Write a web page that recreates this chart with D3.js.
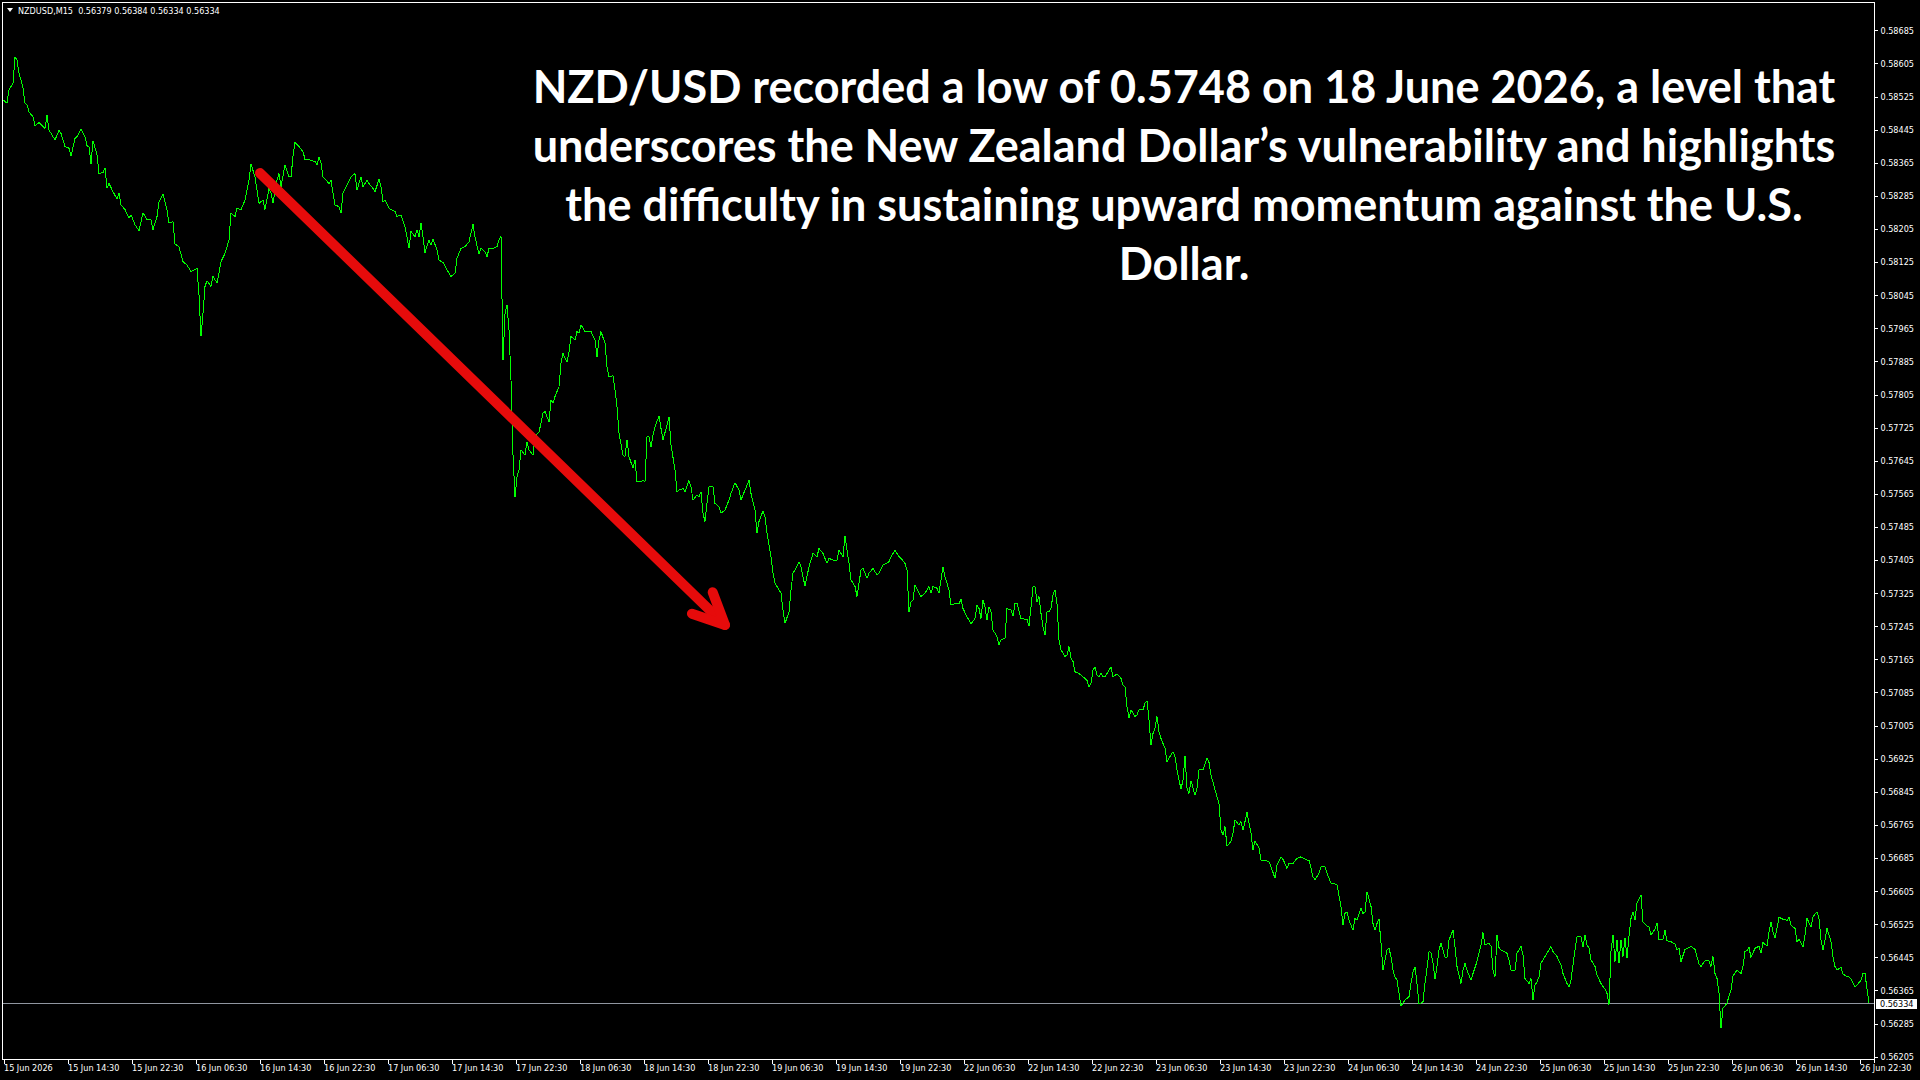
<!DOCTYPE html>
<html>
<head>
<meta charset="utf-8">
<script src="https://cdn.jsdelivr.net/npm/d3@7"></script>
<style>
  html, body { margin: 0; padding: 0; background: #000; }
  svg { display: block; }
  .axis text { font-family: Tahoma, "DejaVu Sans Condensed", "DejaVu Sans", sans-serif; font-size: 9px; fill: #fff; }
  .axis line { stroke: #fff; shape-rendering: crispEdges; }
</style>
</head>
<body>
<svg id="chart" width="1920" height="1080"></svg>
<script>
// header of the MT4 window
const symbolLabel = "NZDUSD,M15";
const lastBarOHLC = [0.56379, 0.56384, 0.56334, 0.56334];

// price scale on the right
const priceTicks = [
  0.58685, 0.58605, 0.58525, 0.58445, 0.58365, 0.58285, 0.58205, 0.58125,
  0.58045, 0.57965, 0.57885, 0.57805, 0.57725, 0.57645, 0.57565, 0.57485,
  0.57405, 0.57325, 0.57245, 0.57165, 0.57085, 0.57005, 0.56925, 0.56845,
  0.56765, 0.56685, 0.56605, 0.56525, 0.56445, 0.56365, 0.56285, 0.56205
];

// time scale: one label every 32 bars of M15
const timeTickBars = [
  0, 32, 64, 96, 128, 160, 192, 224, 256, 288,
  320, 352, 384, 416, 448, 480, 512, 544, 576, 608,
  640, 672, 704, 736, 768, 800, 832, 864, 896, 928
];
const timeTickLabels = [
  "15 Jun 2026", "15 Jun 14:30", "15 Jun 22:30", "16 Jun 06:30", "16 Jun 14:30",
  "16 Jun 22:30", "17 Jun 06:30", "17 Jun 14:30", "17 Jun 22:30", "18 Jun 06:30",
  "18 Jun 14:30", "18 Jun 22:30", "19 Jun 06:30", "19 Jun 14:30", "19 Jun 22:30",
  "22 Jun 06:30", "22 Jun 14:30", "22 Jun 22:30", "23 Jun 06:30", "23 Jun 14:30",
  "23 Jun 22:30", "24 Jun 06:30", "24 Jun 14:30", "24 Jun 22:30", "25 Jun 06:30",
  "25 Jun 14:30", "25 Jun 22:30", "26 Jun 06:30", "26 Jun 14:30", "26 Jun 22:30"
];

// [bar index, close]
const closes = [
  [0,0.58517],[2,0.58509],[3,0.58541],[5,0.58557],[6,0.58621],[7,0.58613],[8,0.58581],[9,0.58565],[10,0.58545],[11,0.58509],
  [12,0.58505],[13,0.58488],[15,0.58476],[16,0.58454],[18,0.58462],[21,0.58448],[22,0.58480],[23,0.58444],[26,0.58420],[28,0.58443],
  [29,0.58436],[31,0.58404],[33,0.58400],[34,0.58381],[36,0.58424],[37,0.58428],[39,0.58446],[41,0.58428],[42,0.58406],[43,0.58404],
  [44,0.58362],[45,0.58418],[47,0.58384],[48,0.58339],[50,0.58341],[51,0.58353],[52,0.58303],[53,0.58315],[55,0.58295],[57,0.58277],
  [58,0.58291],[59,0.58263],[61,0.58252],[63,0.58231],[64,0.58239],[66,0.58215],[68,0.58201],[70,0.58244],[72,0.58227],[74,0.58227],
  [75,0.58203],[77,0.58235],[78,0.58271],[80,0.58290],[82,0.58251],[83,0.58219],[85,0.58223],[86,0.58169],[88,0.58162],[90,0.58126],
  [92,0.58118],[94,0.58102],[97,0.58110],[98,0.58046],[99,0.57946],[100,0.58001],[101,0.58066],[102,0.58080],[104,0.58066],[105,0.58090],
  [107,0.58075],[108,0.58098],[109,0.58126],[111,0.58146],[113,0.58178],[114,0.58243],[116,0.58235],[117,0.58255],[119,0.58251],[121,0.58275],
  [123,0.58323],[124,0.58362],[126,0.58331],[127,0.58299],[128,0.58267],[130,0.58275],[131,0.58252],[133,0.58303],[134,0.58291],[135,0.58267],
  [137,0.58323],[138,0.58339],[139,0.58307],[141,0.58360],[143,0.58331],[144,0.58331],[145,0.58380],[146,0.58414],[148,0.58404],[150,0.58392],
  [151,0.58373],[153,0.58372],[156,0.58368],[157,0.58360],[158,0.58378],[159,0.58364],[160,0.58331],[163,0.58315],[164,0.58323],[165,0.58291],
  [166,0.58263],[168,0.58259],[169,0.58243],[170,0.58291],[172,0.58311],[174,0.58331],[176,0.58339],[177,0.58299],[179,0.58331],[180,0.58307],
  [182,0.58323],[183,0.58315],[185,0.58303],[186,0.58295],[188,0.58325],[189,0.58307],[190,0.58271],[191,0.58275],[193,0.58255],[196,0.58247],
  [197,0.58235],[199,0.58239],[201,0.58211],[202,0.58186],[203,0.58158],[204,0.58199],[206,0.58186],[207,0.58203],[208,0.58186],[209,0.58220],
  [210,0.58186],[211,0.58148],[213,0.58178],[214,0.58166],[215,0.58181],[217,0.58154],[218,0.58130],[220,0.58124],[222,0.58106],[224,0.58090],
  [226,0.58098],[227,0.58134],[229,0.58158],[231,0.58162],[233,0.58174],[235,0.58216],[236,0.58186],[238,0.58144],[239,0.58158],[241,0.58150],
  [242,0.58138],[243,0.58158],[245,0.58158],[247,0.58162],[248,0.58178],[249,0.58188],[250,0.57888],[251,0.58000],[252,0.58021],[253,0.57961],
  [254,0.57840],[255,0.57660],[256,0.57558],[257,0.57606],[258,0.57623],[259,0.57671],[261,0.57659],[262,0.57691],[263,0.57671],[265,0.57659],
  [266,0.57703],[268,0.57715],[269,0.57735],[270,0.57760],[271,0.57764],[273,0.57739],[274,0.57792],[275,0.57784],[276,0.57800],[278,0.57824],
  [279,0.57880],[280,0.57904],[282,0.57884],[283,0.57908],[284,0.57945],[286,0.57937],[287,0.57957],[288,0.57953],[289,0.57973],[291,0.57957],
  [293,0.57957],[294,0.57957],[296,0.57937],[297,0.57896],[298,0.57937],[299,0.57957],[301,0.57929],[302,0.57872],[303,0.57848],[305,0.57850],
  [306,0.57816],[307,0.57776],[308,0.57711],[310,0.57659],[311,0.57655],[312,0.57695],[313,0.57655],[315,0.57627],[316,0.57647],[317,0.57594],
  [319,0.57594],[320,0.57598],[321,0.57594],[322,0.57703],[323,0.57703],[324,0.57679],[325,0.57707],[326,0.57727],[328,0.57753],[329,0.57723],
  [330,0.57695],[332,0.57731],[333,0.57751],[334,0.57683],[336,0.57623],[337,0.57570],[338,0.57574],[340,0.57578],[341,0.57570],[343,0.57597],
  [344,0.57582],[345,0.57550],[347,0.57562],[348,0.57558],[349,0.57570],[350,0.57518],[351,0.57498],[352,0.57542],[353,0.57582],[355,0.57582],
  [356,0.57542],[358,0.57534],[359,0.57518],[361,0.57526],[363,0.57550],[364,0.57566],[366,0.57592],[368,0.57574],[369,0.57550],[371,0.57574],
  [373,0.57598],[374,0.57566],[376,0.57526],[377,0.57470],[378,0.57498],[380,0.57524],[381,0.57510],[382,0.57470],[384,0.57413],[385,0.57373],
  [386,0.57349],[387,0.57341],[389,0.57325],[390,0.57284],[391,0.57252],[393,0.57280],[394,0.57333],[395,0.57373],[396,0.57381],[398,0.57401],
  [399,0.57389],[400,0.57365],[401,0.57342],[403,0.57389],[404,0.57405],[405,0.57421],[407,0.57413],[408,0.57433],[410,0.57421],[412,0.57397],
  [413,0.57409],[415,0.57405],[417,0.57405],[418,0.57429],[420,0.57413],[421,0.57463],[423,0.57397],[424,0.57357],[426,0.57341],[427,0.57317],
  [429,0.57381],[430,0.57385],[432,0.57361],[433,0.57373],[435,0.57385],[437,0.57369],[438,0.57373],[440,0.57393],[443,0.57401],[444,0.57413],
  [446,0.57429],[448,0.57413],[449,0.57409],[451,0.57397],[452,0.57381],[453,0.57280],[454,0.57304],[455,0.57308],[456,0.57345],[458,0.57325],
  [459,0.57317],[461,0.57325],[463,0.57341],[464,0.57325],[465,0.57341],[467,0.57337],[468,0.57325],[470,0.57389],[471,0.57365],[473,0.57333],
  [474,0.57296],[476,0.57300],[478,0.57300],[479,0.57310],[480,0.57288],[482,0.57268],[483,0.57260],[484,0.57251],[486,0.57264],[487,0.57296],
  [488,0.57288],[489,0.57264],[490,0.57308],[491,0.57292],[492,0.57260],[493,0.57292],[494,0.57280],[495,0.57236],[497,0.57220],[498,0.57200],
  [499,0.57212],[501,0.57216],[502,0.57288],[504,0.57284],[505,0.57270],[506,0.57300],[507,0.57300],[509,0.57264],[511,0.57262],[512,0.57262],
  [513,0.57246],[514,0.57292],[515,0.57341],[516,0.57341],[517,0.57304],[518,0.57317],[519,0.57276],[520,0.57244],[521,0.57224],[522,0.57280],
  [523,0.57280],[524,0.57288],[525,0.57321],[526,0.57333],[527,0.57300],[528,0.57212],[529,0.57188],[531,0.57172],[532,0.57176],[533,0.57196],
  [534,0.57168],[535,0.57160],[536,0.57135],[538,0.57131],[540,0.57123],[542,0.57114],[543,0.57099],[544,0.57107],[545,0.57139],[546,0.57147],
  [547,0.57127],[548,0.57123],[549,0.57131],[550,0.57123],[551,0.57123],[553,0.57139],[554,0.57146],[555,0.57123],[557,0.57130],[559,0.57119],
  [560,0.57103],[561,0.57099],[562,0.57051],[563,0.57023],[564,0.57043],[566,0.57027],[567,0.57031],[568,0.57043],[570,0.57043],[571,0.57059],
  [572,0.57065],[573,0.57019],[574,0.56958],[575,0.56986],[576,0.56998],[577,0.57027],[578,0.56990],[579,0.56974],[581,0.56950],[582,0.56918],
  [584,0.56934],[585,0.56942],[586,0.56930],[587,0.56898],[589,0.56851],[590,0.56874],[591,0.56932],[592,0.56854],[593,0.56841],[594,0.56872],
  [596,0.56837],[597,0.56854],[598,0.56898],[600,0.56899],[602,0.56926],[603,0.56916],[604,0.56886],[606,0.56850],[607,0.56833],[608,0.56817],
  [609,0.56753],[610,0.56741],[611,0.56761],[612,0.56714],[614,0.56725],[615,0.56745],[616,0.56777],[618,0.56765],[619,0.56773],[620,0.56753],
  [621,0.56773],[622,0.56795],[624,0.56745],[625,0.56705],[626,0.56726],[628,0.56709],[629,0.56680],[631,0.56680],[633,0.56676],[634,0.56664],
  [636,0.56636],[637,0.56668],[639,0.56687],[640,0.56682],[642,0.56660],[643,0.56672],[645,0.56672],[647,0.56684],[649,0.56688],[652,0.56680],
  [653,0.56680],[655,0.56640],[656,0.56632],[658,0.56648],[659,0.56664],[661,0.56664],[662,0.56648],[664,0.56624],[665,0.56624],[667,0.56620],
  [669,0.56568],[670,0.56523],[671,0.56551],[672,0.56555],[673,0.56535],[675,0.56511],[676,0.56539],[677,0.56535],[679,0.56564],[680,0.56551],
  [681,0.56555],[682,0.56604],[684,0.56568],[685,0.56527],[686,0.56511],[687,0.56527],[688,0.56537],[689,0.56479],[690,0.56415],[692,0.56463],
  [693,0.56467],[694,0.56447],[695,0.56414],[696,0.56398],[697,0.56390],[698,0.56358],[699,0.56327],[701,0.56342],[703,0.56350],[704,0.56382],
  [705,0.56410],[706,0.56421],[707,0.56382],[708,0.56332],[710,0.56338],[711,0.56382],[712,0.56418],[713,0.56459],[714,0.56456],[715,0.56431],
  [716,0.56392],[717,0.56423],[718,0.56463],[719,0.56479],[721,0.56445],[722,0.56445],[723,0.56487],[725,0.56511],[726,0.56471],[727,0.56423],
  [729,0.56382],[730,0.56414],[731,0.56431],[732,0.56414],[734,0.56390],[735,0.56406],[737,0.56435],[739,0.56475],[740,0.56505],[741,0.56475],
  [743,0.56479],[744,0.56472],[745,0.56414],[746,0.56398],[747,0.56499],[748,0.56469],[749,0.56463],[752,0.56455],[753,0.56439],[754,0.56414],
  [756,0.56414],[757,0.56455],[759,0.56472],[760,0.56451],[761,0.56394],[763,0.56382],[764,0.56394],[765,0.56342],[766,0.56378],[767,0.56386],
  [768,0.56398],[769,0.56431],[771,0.56447],[772,0.56455],[774,0.56471],[775,0.56459],[777,0.56447],[779,0.56427],[780,0.56406],[782,0.56382],
  [783,0.56373],[784,0.56390],[785,0.56427],[786,0.56463],[787,0.56495],[789,0.56495],[790,0.56471],[791,0.56499],[792,0.56475],[793,0.56467],
  [794,0.56439],[796,0.56423],[797,0.56402],[799,0.56382],[801,0.56368],[802,0.56358],[803,0.56330],[804,0.56459],[805,0.56499],[806,0.56435],
  [807,0.56487],[808,0.56431],[809,0.56487],[810,0.56447],[811,0.56491],[812,0.56443],[813,0.56497],[814,0.56539],[815,0.56555],[816,0.56535],
  [817,0.56576],[819,0.56596],[820,0.56531],[822,0.56521],[823,0.56518],[824,0.56499],[826,0.56513],[827,0.56529],[828,0.56487],[830,0.56489],
  [831,0.56510],[832,0.56485],[834,0.56483],[836,0.56477],[837,0.56463],[838,0.56467],[839,0.56435],[841,0.56464],[843,0.56469],[844,0.56472],
  [846,0.56464],[847,0.56447],[848,0.56429],[849,0.56423],[851,0.56437],[853,0.56437],[854,0.56423],[855,0.56447],[856,0.56406],[857,0.56394],
  [858,0.56360],[859,0.56274],[860,0.56322],[862,0.56334],[863,0.56352],[864,0.56365],[865,0.56400],[867,0.56414],[869,0.56406],[870,0.56423],
  [871,0.56459],[872,0.56461],[873,0.56469],[874,0.56445],[876,0.56467],[878,0.56472],[879,0.56455],[880,0.56481],[882,0.56472],[883,0.56507],
  [884,0.56531],[885,0.56507],[886,0.56491],[887,0.56515],[888,0.56542],[890,0.56537],[891,0.56537],[892,0.56534],[893,0.56543],[894,0.56523],
  [896,0.56515],[897,0.56483],[898,0.56489],[900,0.56471],[901,0.56499],[902,0.56539],[904,0.56519],[905,0.56543],[907,0.56555],[908,0.56539],
  [909,0.56487],[910,0.56464],[911,0.56487],[912,0.56515],[914,0.56483],[915,0.56447],[916,0.56423],[917,0.56414],[919,0.56421],[920,0.56405],
  [922,0.56398],[923,0.56398],[924,0.56392],[926,0.56374],[927,0.56378],[929,0.56390],[930,0.56406],[931,0.56406],[932,0.56368],[933,0.56334]
];

// annotation
const titleLines = [
  "NZD/USD recorded a low of 0.5748 on 18 June 2026, a level that",
  "underscores the New Zealand Dollar\u2019s vulnerability and highlights",
  "the difficulty in sustaining upward momentum against the U.S.",
  "Dollar."
];
const arrowFrom = [128.5, 0.58340];
const arrowTo = [361, 0.57248];

const svg = d3.select("#chart");
const frame = { left: 2, top: 2, right: 1874, bottom: 1059 };

svg.append("rect")
  .attr("width", 1920).attr("height", 1080)
  .attr("fill", "#000");

const x = d3.scaleLinear().domain([0, 933]).range([3, 1869]);
const y = d3.scaleLinear().domain([0.56205, 0.58685]).range([1056.7, 30.3]);

// frame
svg.append("path")
  .attr("d", `M${frame.left + 0.5},${frame.bottom + 0.5}V${frame.top + 0.5}H${frame.right + 0.5}V${frame.bottom + 4}`)
  .attr("fill", "none")
  .attr("stroke", "#fff")
  .attr("shape-rendering", "crispEdges");
svg.append("line")
  .attr("x1", frame.left).attr("x2", frame.right + 1)
  .attr("y1", frame.bottom + 0.5).attr("y2", frame.bottom + 0.5)
  .attr("stroke", "#fff")
  .attr("shape-rendering", "crispEdges");

// price axis
const yAxis = d3.axisRight(y)
  .tickValues(priceTicks)
  .tickSize(3)
  .tickPadding(3)
  .tickFormat(d3.format(".5f"));
const yAxisGroup = svg.append("g").attr("class", "axis")
  .attr("transform", `translate(${frame.right + 0.5},0)`)
  .call(yAxis);
yAxisGroup.select(".domain").remove();

// time axis
const xAxis = d3.axisBottom(x)
  .tickValues(timeTickBars)
  .tickSize(4)
  .tickFormat((d, i) => timeTickLabels[i]);
const xAxisGroup = svg.append("g").attr("class", "axis")
  .attr("transform", `translate(0.5,${frame.bottom + 0.5})`)
  .call(xAxis);
xAxisGroup.select(".domain").remove();
xAxisGroup.selectAll("text")
  .attr("text-anchor", "start")
  .attr("x", 0)
  .attr("y", 5);

// bid line + price tag
const last = closes[closes.length - 1][1];
svg.append("line")
  .attr("x1", frame.left + 1).attr("x2", frame.right)
  .attr("y1", Math.round(y(last)) + 0.5).attr("y2", Math.round(y(last)) + 0.5)
  .attr("stroke", "#9096a0")
  .attr("shape-rendering", "crispEdges");
svg.append("rect")
  .attr("x", frame.right + 2).attr("y", Math.round(y(last)) - 4)
  .attr("width", 41).attr("height", 10)
  .attr("fill", "#fff");
svg.append("text")
  .attr("x", frame.right + 6).attr("y", Math.round(y(last)) + 1)
  .attr("dy", "0.32em")
  .style("font-family", 'Tahoma, "DejaVu Sans Condensed", "DejaVu Sans", sans-serif')
  .style("font-size", "9px")
  .attr("fill", "#000")
  .text(d3.format(".5f")(last));

// close line
const line = d3.line()
  .x((d) => x(d[0]))
  .y((d) => y(d[1]));
svg.append("path")
  .datum(closes)
  .attr("d", line)
  .attr("fill", "none")
  .attr("stroke", "#00ff00")
  .attr("stroke-width", 1)
  .attr("shape-rendering", "crispEdges");

// header
svg.append("path")
  .attr("d", "M7,8H13L10,12Z")
  .attr("fill", "#fff");
svg.append("text")
  .attr("x", 18).attr("y", 11)
  .attr("dy", "0.32em")
  .style("font-family", 'Tahoma, "DejaVu Sans Condensed", "DejaVu Sans", sans-serif')
  .style("font-size", "9px")
  .attr("fill", "#fff")
  .attr("xml:space", "preserve")
  .text(`${symbolLabel}  ${lastBarOHLC.map(d3.format(".5f")).join(" ")}`);

// red arrow
const ax0 = x(arrowFrom[0]), ay0 = y(arrowFrom[1]);
const ax1 = x(arrowTo[0]), ay1 = y(arrowTo[1]);
const ang = Math.atan2(ay1 - ay0, ax1 - ax0);
const headLen = 35, headSpread = 0.44;
const arm = (s) => [ax1 - headLen * Math.cos(ang + s), ay1 - headLen * Math.sin(ang + s)];
const arrowG = svg.append("g")
  .attr("fill", "none")
  .attr("stroke", "#e60b0b")
  .attr("stroke-width", 10)
  .attr("stroke-linecap", "round")
  .attr("stroke-linejoin", "round");
arrowG.append("path").attr("d", d3.line()([[ax0, ay0], [ax1, ay1]]));
arrowG.append("path").attr("d", d3.line()([arm(headSpread), [ax1, ay1], arm(-headSpread)]));

// title
svg.append("g")
  .selectAll("text")
  .data(titleLines)
  .join("text")
  .attr("x", 1184)
  .attr("y", (d, i) => 103 + i * 59)
  .attr("text-anchor", "middle")
  .style("font-family", "Lato, 'Open Sans', sans-serif")
  .style("font-weight", 700)
  .style("font-size", "45px")
  .attr("fill", "#fff")
  .text((d) => d);
</script>
</body>
</html>
